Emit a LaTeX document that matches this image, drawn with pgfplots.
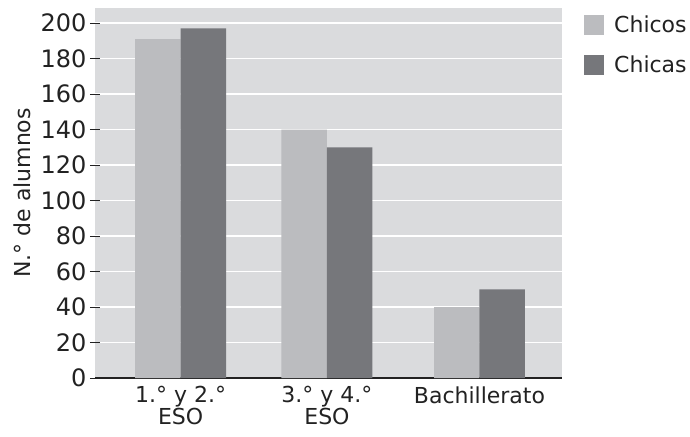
\documentclass[border=0pt]{standalone}
\usepackage{pgfplots}
\pgfplotsset{compat=1.18}
\usepackage{fontspec}
\setmainfont{DejaVu Sans}
\definecolor{bgc}{HTML}{DADBDD}
\definecolor{chicos}{HTML}{BBBCBF}
\definecolor{chicas}{HTML}{76777B}
\definecolor{txt}{HTML}{222222}
\begin{document}
\begin{tikzpicture}
\begin{axis}[
  scale only axis,
  width=467pt, height=370pt,
  xmin=-0.5, xmax=2.5,
  ymin=0, ymax=208.5,
  axis background/.style={fill=bgc},
  axis x line*=bottom, axis y line*=left,
  x axis line style={draw=txt, line width=1.6pt},
  y axis line style={draw=none},
  ytick={0,20,...,200},
  ymajorgrids,
  grid style={white, line width=1.5pt},
  xtick={0.05,0.99,1.97},
  xticklabels={{1.° y 2.°\\ESO},{3.° y 4.°\\ESO},Bachillerato},
  x tick label style={align=center, text=txt, font=\fontsize{22}{22}\selectfont},
  y tick label style={text=txt, font=\fontsize{24}{27}\selectfont},
  major x tick style={draw=none},
  extra x ticks={0.5,1.5,2.5},
  extra x tick labels={},
  extra x tick style={major tick length=11pt, tick align=center, tick style={draw=txt, line width=0.8pt}, grid=none},
  ytick style={draw=txt, line width=0.9pt},
  major tick length=10pt,
  tick align=center,
  /pgf/number format/assume math mode=true,
  ylabel={N.° de alumnos},
  ylabel style={font=\fontsize{22}{26}\selectfont, text=txt, at={([xshift=-73pt]rel axis cs:0,0.5)}, anchor=center},
  bar width=0.292,
  legend style={at={(rel axis cs:1,1)}, anchor=north west, draw=none, fill=none, inner sep=0pt,
    xshift=22pt, yshift=-6pt, font=\fontsize{22}{26}\selectfont, text=txt, row sep=17pt,
    /tikz/every odd column/.append style={column sep=8pt}},
  legend cell align=left,
]
\addplot[ybar, fill=chicos, draw=none, bar shift=-0.146,
  legend image code/.code={\fill[chicos] (0pt,-10pt) rectangle (20pt,10pt);}]
  coordinates {(0.05,191) (0.99,140) (1.97,40)};
\addlegendentry{Chicos}
\addplot[ybar, fill=chicas, draw=none, bar shift=0.146,
  legend image code/.code={\fill[chicas] (0pt,-10pt) rectangle (20pt,10pt);}]
  coordinates {(0.05,197) (0.99,130) (1.97,50)};
\addlegendentry{Chicas}
\end{axis}
\useasboundingbox (-95pt,-58pt) rectangle (595pt,378pt);
\end{tikzpicture}
\end{document}
